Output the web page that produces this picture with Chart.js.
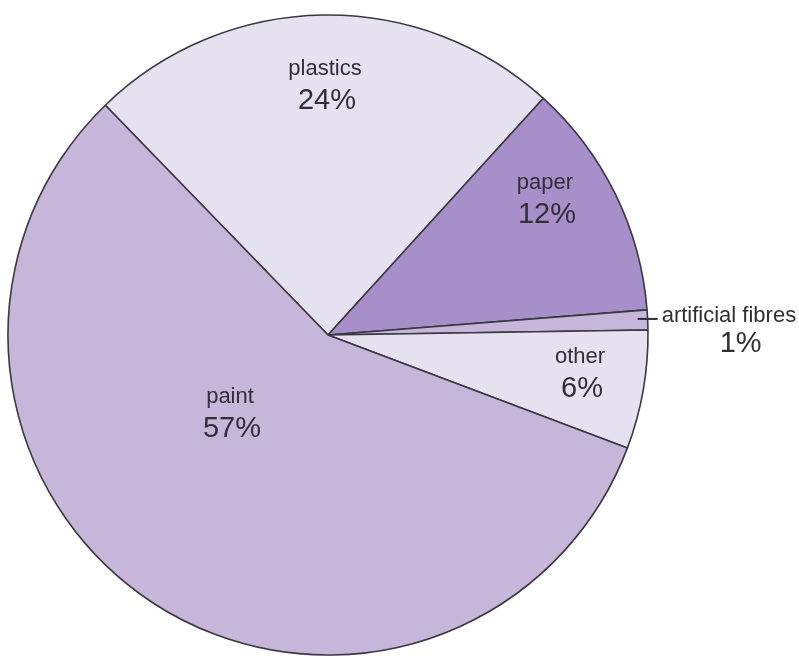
<!DOCTYPE html>
<html>
<head>
<meta charset="utf-8">
<script src="https://cdn.jsdelivr.net/npm/chart.js@4"></script>
<style>
  html, body { margin: 0; padding: 0; background: #fff; }
  #wrap { width: 799px; height: 659px; }
</style>
</head>
<body>
<div id="wrap"><canvas id="wasteChart" width="799" height="659"></canvas></div>
<script>
// ---------- DATA ----------
const categories = ["plastics", "paper", "artificial fibres", "other", "paint"];
const shares = [24, 12, 1, 6, 57];
const sliceColors = ["#e6e1f0", "#a78fc9", "#c5b6da", "#e6e1f0", "#c5b6da"];

// label placement relative to the pie centre (null = drawn outside with a leader)
const labelOffsets = [[-3, -250], [217, -136], null, [252, 38], [-98, 78]];

const textColor = "#302e36";
const fontFamily = "'Liberation Sans', Arial, sans-serif";

// ---------- Plugin: labels inside / beside slices ----------
const sliceLabels = {
    id: "sliceLabels",
    afterDatasetsDraw(chart) {
        const ctx = chart.ctx;
        const arcs = chart.getDatasetMeta(0).data;
        ctx.save();
        ctx.fillStyle = textColor;
        ctx.textBaseline = "middle";

        arcs.forEach((arc, i) => {
            const name = categories[i];
            const pct = shares[i] + "%";
            const off = labelOffsets[i];

            if (off) {
                const x = arc.x + off[0];
                const y = arc.y + off[1];
                ctx.textAlign = "center";
                ctx.font = "22px " + fontFamily;
                ctx.fillText(name, x, y - 16);
                ctx.font = "29px " + fontFamily;
                ctx.fillText(pct, x + 2, y + 16);
            } else {
                // small slice: leader line out to the right
                const mid = (arc.startAngle + arc.endAngle) / 2;
                const ex = arc.x + arc.outerRadius * Math.cos(mid);
                const ey = arc.y + arc.outerRadius * Math.sin(mid);
                ctx.strokeStyle = "#2e2c33";
                ctx.lineWidth = 2;
                ctx.beginPath();
                ctx.moveTo(ex - 10, ey - 1);
                ctx.lineTo(ex + 10, ey - 1);
                ctx.stroke();

                ctx.textAlign = "left";
                ctx.font = "22px " + fontFamily;
                ctx.fillText(name, ex + 14, ey - 4);
                ctx.textAlign = "center";
                ctx.font = "29px " + fontFamily;
                ctx.fillText(pct, ex + 93, ey + 24);
            }
        });
        ctx.restore();
    }
};

const ctx = document.getElementById("wasteChart").getContext("2d");

new Chart(ctx, {
    type: "pie",
    data: {
        labels: categories,
        datasets: [{
            data: shares,
            backgroundColor: sliceColors,
            borderColor: "#3a3842",
            borderWidth: 1.6,
            hoverOffset: 0,
            offset: 0
        }]
    },
    options: {
        responsive: false,
        animation: false,
        rotation: -44.1,
        radius: 320,
        layout: { padding: { left: 8, right: 151, top: 15, bottom: 4 } },
        plugins: {
            legend: { display: false },
            tooltip: { enabled: false }
        }
    },
    plugins: [sliceLabels]
});
</script>
</body>
</html>
